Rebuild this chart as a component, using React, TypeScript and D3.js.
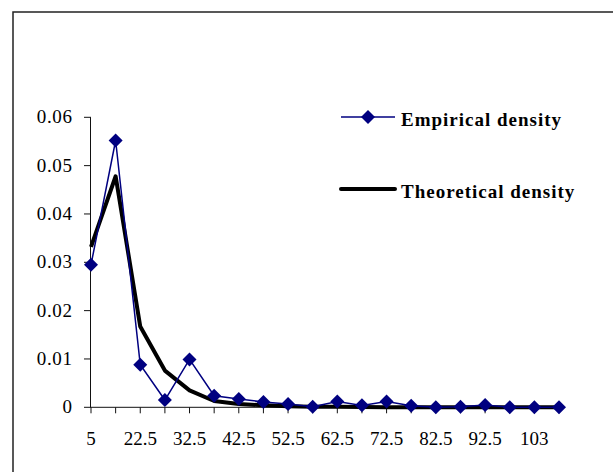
import React, { useEffect, useRef } from 'react';
import * as d3 from 'd3';

const categories = ['5', '15', '22.5', '27.5', '32.5', '37.5', '42.5', '47.5', '52.5', '57.5',
  '62.5', '67.5', '72.5', '77.5', '82.5', '87.5', '92.5', '97.5', '102.5', '107.5'];

const xTickLabels = ['5', '22.5', '32.5', '42.5', '52.5', '62.5', '72.5', '82.5', '92.5', '103'];

const empirical = [0.0295, 0.0552, 0.0088, 0.0015, 0.0099, 0.0024, 0.0017, 0.0011, 0.0007, 0.0001,
  0.0012, 0.0004, 0.0012, 0.0003, 0, 0.0001, 0.0005, 0, 0, 0];

const theoretical = [0.0332, 0.0478, 0.0167, 0.0076, 0.0035, 0.0013, 0.0007, 0.0004, 0.0002, 0.0001,
  0.0001, 0.00005, 0.00003, 0.00002, 0.00001, 0, 0, 0, 0, 0];

const yTicks = [0, 0.01, 0.02, 0.03, 0.04, 0.05, 0.06];

const App = () => {
  const ref = useRef<SVGSVGElement>(null);

  useEffect(() => {
    const svg = d3.select(ref.current);
    svg.selectAll('*').remove();

    const x = d3.scalePoint().domain(categories).range([91, 559]);
    const y = d3.scaleLinear().domain([0, 0.06]).range([407.3, 117.3]);
    const font = '"Liberation Serif", "Times New Roman", serif';

    // outer chart frame (runs off the page on the right and bottom)
    svg.append('rect')
      .attr('x', 13).attr('y', 12)
      .attr('width', 700).attr('height', 500)
      .attr('fill', 'white')
      .attr('stroke', '#222')
      .attr('stroke-width', 1.5);

    const axisColor = '#111';

    // y axis
    svg.append('line')
      .attr('x1', 90.5).attr('x2', 90.5)
      .attr('y1', y(0.06)).attr('y2', y(0))
      .attr('stroke', axisColor);

    yTicks.forEach(t => {
      svg.append('line')
        .attr('x1', 84).attr('x2', 91)
        .attr('y1', y(t)).attr('y2', y(t))
        .attr('stroke', axisColor);
      svg.append('text')
        .attr('x', 72.5).attr('y', y(t) + 6)
        .attr('text-anchor', 'end')
        .attr('font-family', font)
        .attr('font-size', 19)
        .attr('letter-spacing', 0.6)
        .text(d3.format('')(t));
    });

    // x axis
    svg.append('line')
      .attr('x1', 90.5).attr('x2', x(categories[categories.length - 1])!)
      .attr('y1', y(0)).attr('y2', y(0))
      .attr('stroke', axisColor);

    categories.forEach((c, i) => {
      svg.append('line')
        .attr('x1', x(c)!).attr('x2', x(c)!)
        .attr('y1', y(0)).attr('y2', y(0) + 6)
        .attr('stroke', axisColor);
      if (i % 2 === 0) {
        svg.append('text')
          .attr('x', x(c)!).attr('y', 445)
          .attr('text-anchor', 'middle')
          .attr('font-family', font)
          .attr('font-size', 19)
          .text(xTickLabels[i / 2]);
      }
    });

    const line = d3.line<number>()
      .x((_, i) => x(categories[i])!)
      .y(d => y(d));

    svg.append('path')
      .attr('d', line(theoretical))
      .attr('fill', 'none')
      .attr('stroke', 'black')
      .attr('stroke-width', 4)
      .attr('stroke-linejoin', 'round');

    svg.append('path')
      .attr('d', line(empirical))
      .attr('fill', 'none')
      .attr('stroke', '#000080')
      .attr('stroke-width', 1.5);

    const diamond = d3.symbol().type(d3.symbolSquare).size(98);

    svg.selectAll('.marker')
      .data(empirical)
      .enter()
      .append('path')
      .attr('class', 'marker')
      .attr('d', diamond)
      .attr('fill', '#000080')
      .attr('transform', (d, i) => `translate(${x(categories[i])},${y(d)}) rotate(45)`);

    // legend
    const legend = svg.append('g')
      .attr('font-family', font)
      .attr('font-size', 19)
      .attr('font-weight', 'bold')
      .attr('letter-spacing', 1);

    legend.append('line')
      .attr('x1', 341).attr('x2', 395).attr('y1', 117).attr('y2', 117)
      .attr('stroke', '#000080').attr('stroke-width', 1.5);
    legend.append('path')
      .attr('d', diamond)
      .attr('fill', '#000080')
      .attr('transform', 'translate(368,117) rotate(45)');
    legend.append('text')
      .attr('x', 401).attr('y', 126)
      .text('Empirical density');

    legend.append('line')
      .attr('x1', 341).attr('x2', 395).attr('y1', 189).attr('y2', 189)
      .attr('stroke', 'black').attr('stroke-width', 4).attr('stroke-linecap', 'round');
    legend.append('text')
      .attr('x', 401).attr('y', 198)
      .text('Theoretical density');
  }, []);

  return (
    <svg
      ref={ref}
      width={613}
      height={472}
      style={{ position: 'absolute', left: 0, top: 0, background: 'white' }}
    />
  );
};

export default App;
